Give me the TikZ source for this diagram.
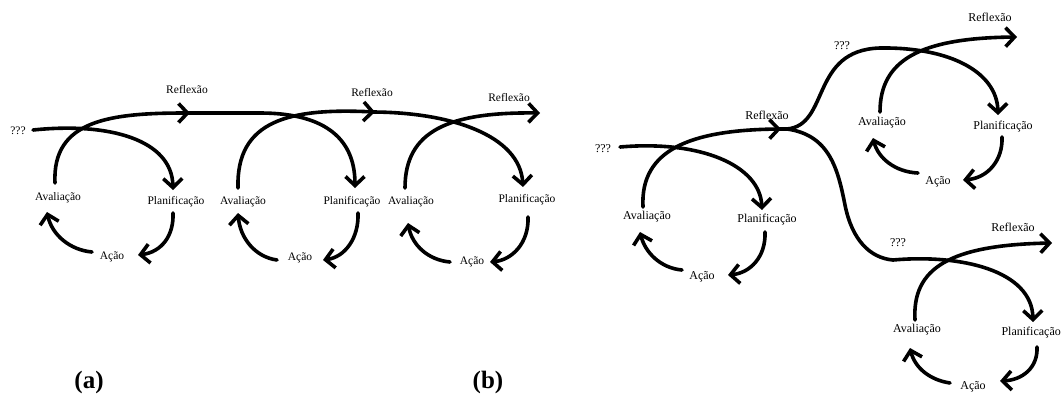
\documentclass[tikz,border=0pt]{standalone}
\usepackage{fontspec}
\setmainfont{Liberation Serif}
\usetikzlibrary{arrows.meta}
\tikzset{
  flow/.style={line width=3.6pt, line cap=round},
  tip/.style={flow, -{Straight Barb[length=9pt,width=19pt]}},
  lbl/.style={font=\fontsize{11.5}{13}\selectfont, inner sep=0pt},
  lblb/.style={font=\fontsize{12}{14}\selectfont, inner sep=0pt},
  tag/.style={font=\fontsize{25}{28}\selectfont\bfseries, inner sep=0pt}
}
\begin{document}
\begin{tikzpicture}[x=1pt,y=-1pt]
\useasboundingbox (0,0) rectangle (1062,405);
\clip (0,0) rectangle (1062,405);

% ---------- (a): three cycles in a row ----------
\node[lbl] (qa)  at (18,131) {???};
\node[lbl] (ra1) at (187,90)  {Reflexão};
\node[lbl] (ra2) at (372,93)  {Reflexão};
\node[lbl] (ra3) at (509,98)  {Reflexão};
\node[lbl] (va1) at (58,198)  {Avaliação};
\node[lbl] (pa1) at (176,202) {Planificação};
\node[lbl] (aa1) at (112,257) {Ação};
\node[lbl] (va2) at (243,202) {Avaliação};
\node[lbl] (pa2) at (352,202) {Planificação};
\node[lbl] (aa2) at (300,258) {Ação};
\node[lbl] (va3) at (411,202) {Avaliação};
\node[lbl] (pa3) at (527,200) {Planificação};
\node[lbl] (aa3) at (472,262) {Ação};

% entry into the first planning step
\draw[tip] (33,130) .. controls (110,122) and (172,140) .. (173,190);
% evaluation 1 -> reflection -> planning 2
\draw[tip] (55,183) .. controls (52,120) and (110,113) .. (190,113);
\draw[tip] (186,113) -- (260,113) .. controls (320,113) and (355,135) .. (355,188);
% evaluation 2 -> reflection -> planning 3
\draw[tip] (238,188) .. controls (236,120) and (290,108) .. (375,112);
\draw[tip] (371,112) .. controls (450,112) and (520,135) .. (523,187);
% evaluation 3 -> reflection
\draw[tip] (405,188) .. controls (405,130) and (450,112) .. (540,113);

% lower loops of (a)
\draw[tip] (173,213) .. controls (174,235) and (162,252) .. (138,255);
\draw[tip] (92,252) .. controls (70,250) and (52,235) .. (47,212);
\draw[tip] (358,213) .. controls (359,238) and (345,257) .. (323,260);
\draw[tip] (277,260) .. controls (255,257) and (240,238) .. (238,213);
\draw[tip] (528,217) .. controls (529,243) and (512,260) .. (490,262);
\draw[tip] (450,262) .. controls (428,260) and (412,245) .. (408,223);

% ---------- (b): a cycle that branches in two ----------
\node[lblb] (qb)  at (603,149) {???};
\node[lblb] (rb)  at (767,115) {Reflexão};
\node[lblb] (vb)  at (647,217) {Avaliação};
\node[lblb] (pb)  at (767,220) {Planificação};
\node[lblb] (ab)  at (702,277) {Ação};

\node[lblb] (qu)  at (842,46)  {???};
\node[lblb] (ru)  at (990,17)  {Reflexão};
\node[lblb] (vu)  at (882,123) {Avaliação};
\node[lblb] (pu)  at (1003,127) {Planificação};
\node[lblb] (au)  at (938,182) {Ação};

\node[lblb] (ql)  at (898,243) {???};
\node[lblb] (rl)  at (1013,227) {Reflexão};
\node[lblb] (vl)  at (917,330) {Avaliação};
\node[lblb, anchor=east] (pl) at (1061,333) {Planificação};
\node[lblb] (al)  at (973,387) {Ação};

% base cycle
\draw[tip] (620,147) .. controls (700,140) and (760,165) .. (762,210);
\draw[tip] (643,207) .. controls (640,150) and (690,130) .. (781,129);
\draw[tip] (765,232) .. controls (766,257) and (750,273) .. (728,275);
\draw[tip] (682,270) .. controls (660,268) and (645,252) .. (640,232);

% upper branch
\draw[tip] (777,129) -- (787,129) .. controls (830,125) and (810,50) .. (880,48)
           .. controls (950,47) and (997,72) .. (998,115);
\draw[tip] (880,112) .. controls (880,60) and (920,38) .. (1017,37);
\draw[tip] (1002,137) .. controls (1003,160) and (988,178) .. (963,180);
\draw[tip] (918,173) .. controls (895,172) and (878,158) .. (873,138);

% lower branch
\draw[tip] (787,129) .. controls (830,135) and (838,170) .. (845,205)
           .. controls (852,240) and (870,258) .. (893,260)
           .. controls (960,254) and (1032,270) .. (1033,322);
\draw[tip] (915,320) .. controls (912,268) and (950,245) .. (1052,243);
\draw[tip] (1037,347) .. controls (1038,368) and (1022,380) .. (1000,381);
\draw[tip] (950,383) .. controls (930,380) and (915,368) .. (910,348);

% panel tags
\node[tag] (ta) at (89,382) {(a)};
\node[tag] (tb) at (488,382) {(b)};
\end{tikzpicture}
\end{document}
